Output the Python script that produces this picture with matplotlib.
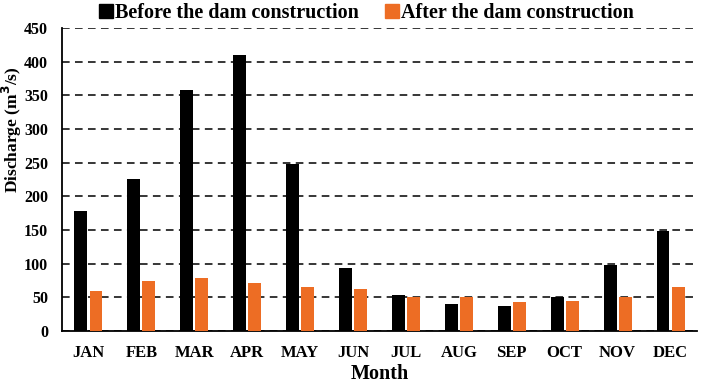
import numpy as np
import matplotlib.pyplot as plt
from matplotlib.lines import Line2D

# Datos
months = ["JAN", "FEB", "MAR", "APR", "MAY", "JUN", "JUL", "AUG", "SEP", "OCT", "NOV", "DEC"]
before = [178, 226, 358, 410, 248, 94, 54, 40, 37, 50, 98, 148]
after = [60, 74, 79, 72, 66, 63, 50, 50, 43, 44, 50, 66]

plt.rcParams['font.family'] = ['Liberation Serif', 'DejaVu Serif']
plt.rcParams['font.weight'] = 'bold'

fig = plt.figure(figsize=(7.02, 3.83), dpi=100)
ax = fig.add_axes([62 / 702, 52 / 383, 635 / 702, 303 / 383])

x = np.arange(len(months))
w = 0.245
ax.bar(x - w / 2 - 0.02, before, width=w, color="black", zorder=3)
ax.bar(x + w / 2 + 0.02, after, width=w, color="#ED6D24", zorder=3)

ax.set_xlim(-0.5, len(months) - 0.5)
ax.set_ylim(0, 450)
ax.set_yticks(np.arange(0, 451, 50))
ax.set_xticks(x)
ax.set_xticklabels(months)
ax.tick_params(axis='x', length=0, pad=10, labelsize=12)
ax.tick_params(axis='y', length=0, pad=10, labelsize=11.5)

ax.yaxis.grid(True, linestyle=(0, (5, 3.5)), color="black", linewidth=1.1, zorder=0)
ax.set_axisbelow(True)
for s in ["top", "right"]:
    ax.spines[s].set_visible(False)
ax.spines["left"].set_linewidth(1.3)
ax.spines["bottom"].set_linewidth(1.3)

ax.set_xlabel("Month", fontsize=14.5, fontweight="bold", labelpad=2)
ax.set_ylabel("Discharge (m$^\\mathbf{3}$/s)", fontsize=12.5, fontweight="bold")
ax.yaxis.set_label_coords(-0.06, 0.663)

handles = [
    Line2D([], [], marker='s', linestyle='none', color="black", markersize=10),
    Line2D([], [], marker='s', linestyle='none', color="#ED6D24", markersize=10),
]
fig.legend(handles, ["Before the dam construction", "After the dam construction"],
           loc="upper center", bbox_to_anchor=(0.522, 1.04), ncol=2, frameon=False,
           fontsize=14.5, handletextpad=0.1, columnspacing=1.3, handlelength=0.7)

fig.savefig("out.png", dpi=100)
